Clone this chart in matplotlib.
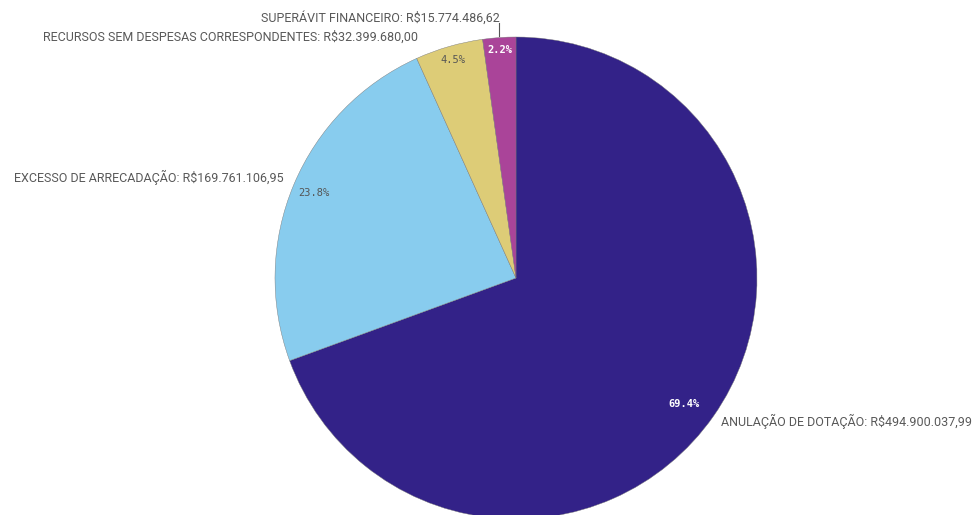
import numpy as np
import matplotlib
matplotlib.use('Agg')
import matplotlib.pyplot as plt

categories = ['ANULAÇÃO DE DOTAÇÃO', 'EXCESSO DE ARRECADAÇÃO',
              'RECURSOS SEM DESPESAS CORRESPONDENTES', 'SUPERÁVIT FINANCEIRO']
values_txt = ['R$494.900.037,99', 'R$169.761.106,95', 'R$32.399.680,00', 'R$15.774.486,62']
values = [494900037.99, 169761106.95, 32399680.00, 15774486.62]
colors = ['#332288', '#88CCEE', '#DDCC77', '#AA4499']
pct_colors = ['white', '#555555', '#555555', 'white']
pct_weight = ['bold', 'normal', 'normal', 'bold']
pct_r = [0.87, 0.91, 0.94, 0.95]
pct_dang = [-2, 0, 0, 0]
label_r = [1.04, 1.05, 1.08, 1.08]
label_dang = [0, -0.5, 6, 0]

plt.rcParams['font.family'] = ['Roboto', 'DejaVu Sans']

W, H = 974, 515
fig = plt.figure(figsize=(W / 100, H / 100), dpi=100)
cx, cy, r = 516, 278, 241
ax = fig.add_axes([(cx - r) / W, (H - cy - r) / H, 2 * r / W, 2 * r / H])

wedges, _ = ax.pie(values, colors=colors, startangle=90, counterclock=False,
                   wedgeprops=dict(edgecolor='#777777', linewidth=0.3))
ax.set_xlim(-1, 1)
ax.set_ylim(-1, 1)
ax.set_aspect('equal')
ax.axis('off')

total = sum(values)
for i, w in enumerate(wedges):
    mid = (w.theta1 + w.theta2) / 2
    ang = np.deg2rad(mid + pct_dang[i])
    pct = values[i] / total * 100
    ax.text(pct_r[i] * np.cos(ang), pct_r[i] * np.sin(ang), '%.1f%%' % pct,
            ha='center', va='center', fontsize=7.5, color=pct_colors[i],
            fontweight=pct_weight[i], family='DejaVu Sans Mono')
    ang = np.deg2rad(mid + label_dang[i])
    lx, ly = label_r[i] * np.cos(ang), label_r[i] * np.sin(ang)
    ha = 'left' if np.cos(ang) > 0 else 'right'
    txt = categories[i] + ': ' + values_txt[i]
    if i == 3:
        # short leader line from the small slice up to its label
        ax.plot([np.cos(ang), np.cos(ang)], [np.sin(ang) * 1.005, np.sin(ang) + 0.06],
                color='#555555', lw=0.8, clip_on=False)
        lx = np.cos(ang)
    ax.text(lx, ly, txt, ha=ha, va='center', fontsize=9, color='#595959',
            clip_on=False)

fig.savefig('out.png', dpi=100)
